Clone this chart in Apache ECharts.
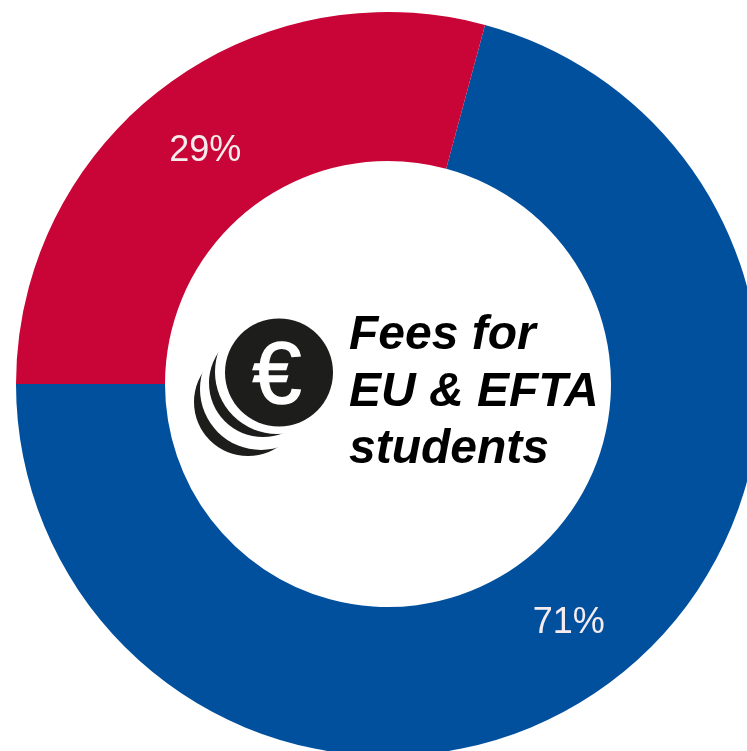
<!DOCTYPE html>
<html><head><meta charset="utf-8">
<style>html,body{margin:0;padding:0;background:#fff}#c{width:747px;height:751px}</style>
<script src="https://cdn.jsdelivr.net/npm/echarts@6/dist/echarts.min.js"></script></head>
<body><div id="c"></div>
<script>
const names = ['Blue share','Red share'];
const values = [70.8,29.2];
const labels = ['71%','29%'];
const colors = ['#00509e','#c80536'];
const titleLines = ['Fees for','EU & EFTA','students'];
const labelShift = [[-2,0],[0,6]];
const chart = echarts.init(document.getElementById('c'),null,{renderer:'canvas'});
const disc=(cx,cy,r,fill)=>({type:'circle',z:10,silent:true,shape:{cx,cy,r},style:{fill}});
const ink='#1d1d1b';
chart.setOption({
 animation:false,
 series:[{type:'pie',center:[388,384],radius:[223,372],startAngle:180,clockwise:false,silent:true,
  data:values.map((v,i)=>({name:names[i],value:v,itemStyle:{color:colors[i]},label:{offset:labelShift[i]}})),
  label:{show:true,position:'inside',formatter:p=>labels[p.dataIndex],fontSize:36,fontFamily:'Liberation Sans',color:'#f6ecee'},
  labelLine:{show:false}}],
 graphic:[
  disc(248,402,54,ink),disc(261,389,61,'#fff'),
  disc(263,383,54,ink),disc(277,372,62,'#fff'),
  disc(279,372.5,54,ink),
  {type:'text',z:11,silent:true,x:277,y:379,style:{text:'€',font:'88px "Liberation Sans"',fill:'#fff',stroke:'#fff',lineWidth:1.5,align:'center',verticalAlign:'middle'}},
  {type:'text',z:11,silent:true,left:349,top:312,style:{text:titleLines[0],font:'italic bold 48px "Liberation Sans"',fill:'#000'}},
  {type:'text',z:11,silent:true,left:349,top:369,style:{text:titleLines[1],font:'italic bold 48px "Liberation Sans"',fill:'#000'}},
  {type:'text',z:11,silent:true,left:349,top:426,style:{text:titleLines[2],font:'italic bold 48px "Liberation Sans"',fill:'#000'}}
 ]
});
</script></body></html>
